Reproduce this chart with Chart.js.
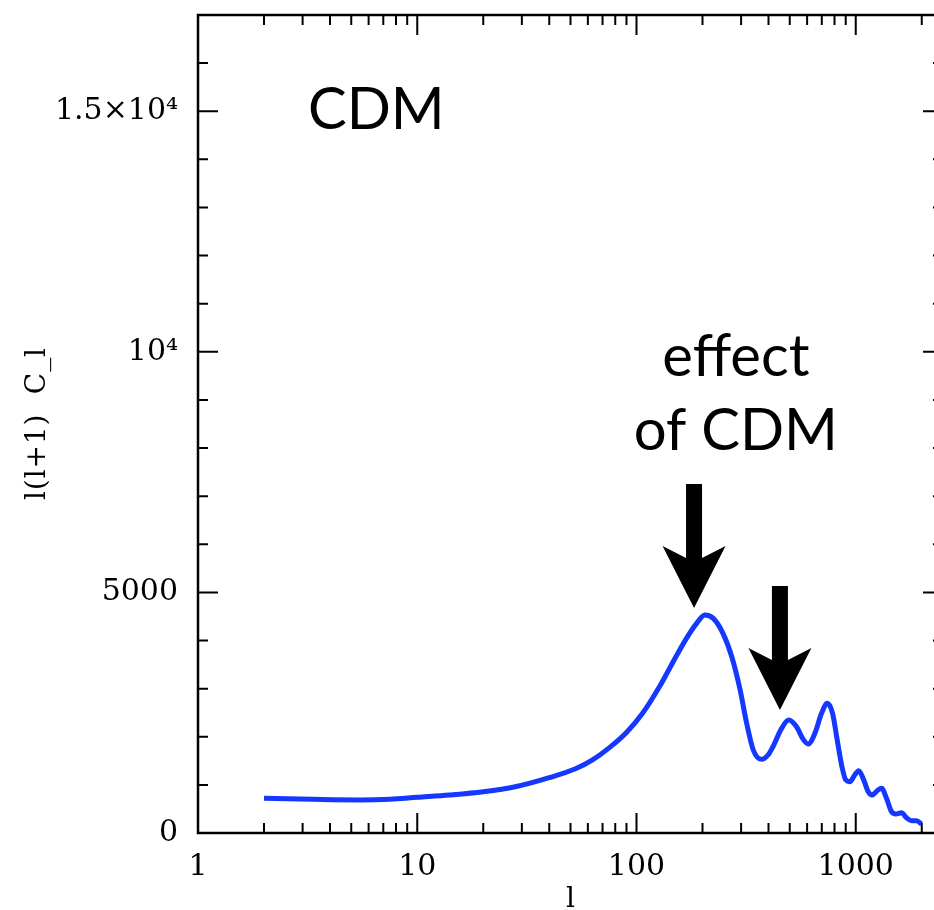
<!DOCTYPE html>
<html>
<head>
<meta charset="utf-8">
<script src="https://cdn.jsdelivr.net/npm/chart.js@4.4.1/dist/chart.umd.min.js"></script>
<style>
  html, body { margin:0; padding:0; background:#fff; overflow:hidden; }
  #wrap { width:960px; height:930px; }
</style>
</head>
<body>
<div id="wrap"><canvas id="c" width="960" height="930"></canvas></div>
<script>
// ---- data ----
const multipoleL = [2, 2.9, 4.1, 5.5, 7.5, 10, 14, 20, 28, 40, 53, 63, 75, 90, 107, 128, 147, 169, 188, 205, 224, 248, 272, 297, 318, 341, 372, 398, 419, 459, 495, 537, 576, 607, 651, 698, 741, 784, 823, 865, 901, 940, 989, 1032, 1080, 1140, 1190, 1253, 1312, 1381, 1455, 1523, 1617, 1703, 1795, 1892, 1995];
const powerCl = [721, 706, 690, 686, 700, 742, 790, 858, 962, 1150, 1340, 1520, 1770, 2090, 2500, 3060, 3560, 4046, 4357, 4530, 4460, 4149, 3663, 2971, 2279, 1724, 1531, 1621, 1793, 2175, 2348, 2209, 1946, 1849, 2071, 2487, 2694, 2487, 1932, 1378, 1101, 1066, 1205, 1294, 1136, 858, 790, 879, 928, 721, 443, 395, 422, 318, 256, 256, 187];

const xMajorTicks = [1, 10, 100, 1000];
const xTickLabels = ['1', '10', '100', '1000'];
const xMinorMultipliers = [2, 3, 4, 5, 6, 7, 8, 9];
const yMajorTicks = [0, 5000, 10000, 15000];
const yTickLabels = ['0', '5000', '10\u2074', '1.5\u00d710\u2074'];
const yMinorStep = 1000;

const xTitle = 'l';
const yTitle = 'l(l+1)  C_l';

// annotations anchored in data coordinates (l, value)
const arrowTips = [{ l: 183, v: 4675 }, { l: 451, v: 2556 }];
const textNotes = [
  { text: 'CDM', l: 1.0, v: 14630, align: 'left', dx: 110 },
  { text: 'effect', l: 284, v: 9495, align: 'center', dx: 0 },
  { text: 'of CDM', l: 284, v: 7958, align: 'center', dx: 0 }
];

const tickFont = { family: 'DejaVu Serif', size: 30 };
const lineColor = '#1438ff';

const framePlugin = {
  id: 'frame',
  afterDraw(chart) {
    const { ctx, chartArea: a, scales: { x, y } } = chart;
    ctx.save();
    ctx.strokeStyle = '#000';
    ctx.lineWidth = 2;
    const majorLen = 20, minorLen = 10;
    ctx.beginPath();
    for (let d = 0; d < xMajorTicks.length; d++) {
      const base = xMajorTicks[d];
      const px = x.getPixelForValue(base);
      ctx.moveTo(px, a.bottom); ctx.lineTo(px, a.bottom - majorLen);
      ctx.moveTo(px, a.top); ctx.lineTo(px, a.top + majorLen);
      for (const m of xMinorMultipliers) {
        const v = base * m;
        if (v > x.max) continue;
        const p = x.getPixelForValue(v);
        ctx.moveTo(p, a.bottom); ctx.lineTo(p, a.bottom - minorLen);
        ctx.moveTo(p, a.top); ctx.lineTo(p, a.top + minorLen);
      }
    }
    for (let v = 0; v <= y.max; v += yMinorStep) {
      const py = y.getPixelForValue(v);
      const len = yMajorTicks.includes(v) ? majorLen : minorLen;
      ctx.moveTo(a.left, py); ctx.lineTo(a.left + len, py);
      ctx.moveTo(a.right, py); ctx.lineTo(a.right - len, py);
    }
    ctx.stroke();
    ctx.lineWidth = 2.5;
    ctx.strokeRect(a.left, a.top, a.right - a.left, a.bottom - a.top);

    // arrows
    ctx.fillStyle = '#000';
    for (const t of arrowTips) {
      const tx = x.getPixelForValue(t.l), ty = y.getPixelForValue(t.v);
      const len = 124, headLen = 62, headHalf = 31.5, shaftHalf = 8, notch = 12;
      ctx.beginPath();
      ctx.moveTo(tx - shaftHalf, ty - len);
      ctx.lineTo(tx + shaftHalf, ty - len);
      ctx.lineTo(tx + shaftHalf, ty - headLen + notch);
      ctx.lineTo(tx + headHalf, ty - headLen);
      ctx.lineTo(tx, ty);
      ctx.lineTo(tx - headHalf, ty - headLen);
      ctx.lineTo(tx - shaftHalf, ty - headLen + notch);
      ctx.closePath();
      ctx.fill();
    }
    // annotation texts
    ctx.font = '58px Lato';
    ctx.textBaseline = 'alphabetic';
    for (const n of textNotes) {
      ctx.textAlign = n.align;
      ctx.fillText(n.text, x.getPixelForValue(n.l) + n.dx, y.getPixelForValue(n.v));
    }

    // y-axis title (letter-spaced, rotated)
    ctx.font = '28px "DejaVu Serif"';
    ctx.letterSpacing = '0px';
    const targetLen = 152;
    const w0 = ctx.measureText(yTitle).width;
    const sp = Math.max(0, (targetLen - w0) / (yTitle.length - 1));
    ctx.letterSpacing = sp.toFixed(2) + 'px';
    ctx.translate(38, (a.top + a.bottom) / 2);
    ctx.rotate(-Math.PI / 2);
    ctx.textAlign = 'left';
    ctx.textBaseline = 'middle';
    ctx.fillText(yTitle, -targetLen / 2, 0);
    ctx.restore();
  }
};

new Chart(document.getElementById('c'), {
  type: 'line',
  data: {
    datasets: [{
      data: multipoleL.map((l, i) => ({ x: l, y: powerCl[i] })),
      borderColor: lineColor,
      borderWidth: 5,
      pointRadius: 0,
      fill: false,
      cubicInterpolationMode: 'monotone'
    }]
  },
  options: {
    responsive: false,
    animation: false,
    devicePixelRatio: 1,
    layout: { padding: { top: 15, right: 17, left: 0, bottom: 0 } },
    plugins: { legend: { display: false }, tooltip: { enabled: false } },
    scales: {
      x: {
        type: 'logarithmic', min: 1, max: 2500,
        afterBuildTicks: s => { s.ticks = xMajorTicks.map(v => ({ value: v })); },
        afterFit: s => { s.height = 97; s.paddingLeft = 0; s.paddingRight = 0; },
        grid: { display: false, drawTicks: false },
        border: { display: false },
        ticks: {
          font: tickFont, color: '#000', padding: 16, maxRotation: 0, autoSkip: false,
          callback: (v, i) => xTickLabels[i]
        },
        title: { display: true, text: xTitle, font: { family: 'DejaVu Serif', size: 28 }, color: '#000', padding: { top: 0, bottom: 13 } }
      },
      y: {
        min: 0, max: 17000,
        afterBuildTicks: s => { s.ticks = yMajorTicks.map(v => ({ value: v })); },
        afterFit: s => { s.width = 198; s.paddingTop = 0; s.paddingBottom = 0; },
        grid: { display: false, drawTicks: false },
        border: { display: false },
        ticks: {
          font: tickFont, color: '#000', padding: 20, autoSkip: false,
          callback: (v, i) => yTickLabels[i]
        },
        title: { display: false, text: yTitle }
      }
    }
  },
  plugins: [framePlugin]
});
</script>
</body>
</html>
